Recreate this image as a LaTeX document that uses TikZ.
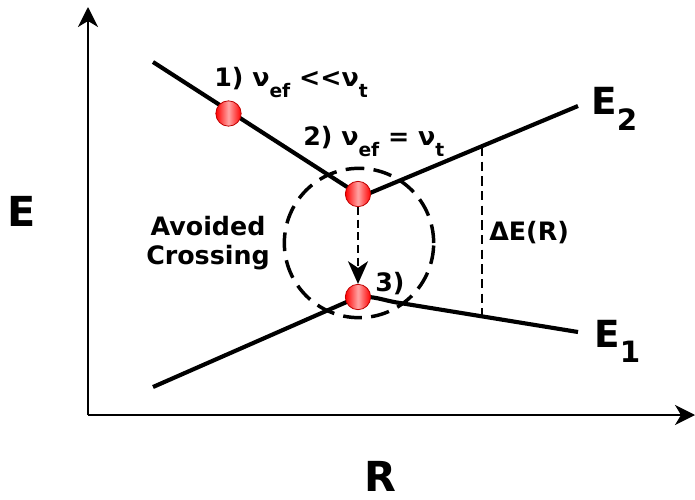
\documentclass[tikz,border=0pt]{standalone}
\usepackage{fontspec}
\setmainfont{DejaVu Sans}
\usetikzlibrary{arrows.meta}
\newcommand\lbsub[1]{\raisebox{-0.42em}{\fontsize{14pt}{14pt}\selectfont #1}}
\newcommand\bigsub[1]{\raisebox{-0.42em}{\fontsize{22pt}{22pt}\selectfont #1}}
\tikzset{
  curve/.style={line width=3.1pt},
  axisline/.style={line width=1.6pt,-{Stealth[length=15pt,width=15pt,inset=4.5pt]}},
  dot/.style={circle,minimum size=19pt,inner sep=0pt,draw=red!75!black,line width=0.6pt,
    left color=red, right color=red, middle color=red!35!white, shading angle=90},
  lbl/.style={font=\fontsize{19pt}{22pt}\selectfont\bfseries,inner sep=0pt},
  biglbl/.style={font=\fontsize{31pt}{31pt}\selectfont\bfseries,inner sep=0pt,text depth=0pt},
}
\begin{document}
\begin{tikzpicture}[x=0.75pt,y=-0.75pt]
\useasboundingbox (0,0) rectangle (695,499);
% axes
\coordinate (O) at (88,415);
\coordinate (ytop) at (88,7);
\coordinate (xend) at (695,415);
\draw[axisline] (O) -- (ytop);
\draw[axisline] (O) -- (xend);
\node[biglbl,anchor=base] (Elab) at (22,226) {E};
\node[biglbl,anchor=base] (Rlab) at (380,491) {R};
% dot positions
\coordinate (p1) at (228.5,113.5);
\coordinate (p2) at (358,194);
\coordinate (p3) at (358,297);
% curves
\coordinate (ustart) at (153,62);
\coordinate (uend) at (578,106);
\coordinate (lstart) at (153,387);
\coordinate (lmid) at (400,303);
\coordinate (lend) at (578,332);
\draw[curve] (ustart) -- (p2);
\draw[curve] (p2) ++(12,-1) coordinate (ur) -- (uend);
\draw[curve] (lstart) -- (p3);
\draw[curve] (p3) to[out=5,in=172] (lmid) -- (lend);
% Delta E
\coordinate (dtop) at (482,147);
\coordinate (dbot) at (482,315);
\draw[line width=1.2pt,dash pattern=on 7pt off 4pt] (dtop) -- (dbot);
\node[lbl,anchor=base west] (dE) at (489,240) {ΔE(R)};
% dashed circle
\node[circle,draw,line width=2.6pt,dash pattern=on 14pt off 7pt,minimum size=112pt,inner sep=0pt] (circ) at (359,243) {};
% dots
\node[dot] (d1) at (p1) {};
\node[dot] (d2) at (p2) {};
\node[dot] (d3) at (p3) {};
\draw[line width=1.6pt,dash pattern=on 6pt off 3.5pt,-{Stealth[length=17pt,width=15pt,inset=5pt]}] (d2) -- (d3);
% labels
\node[lbl,anchor=base west] (l1) at (214,87) {1) ν\lbsub{ef} <{}<ν\lbsub{t}};
\node[lbl,anchor=base west] (l2) at (303,146) {2) ν\lbsub{ef} = ν\lbsub{t}};
\node[lbl,anchor=base west] (l3) at (375,291) {3)};
\node[lbl,align=center] (ac) at (208,243) {Avoided\\Crossing};
\node[font=\fontsize{28pt}{28pt}\selectfont\bfseries,inner sep=0pt,anchor=base west] (E2) at (591,115) {E\bigsub{2}};
\node[font=\fontsize{28pt}{28pt}\selectfont\bfseries,inner sep=0pt,anchor=base west] (E1) at (594,347) {E\bigsub{1}};
\end{tikzpicture}
\end{document}
